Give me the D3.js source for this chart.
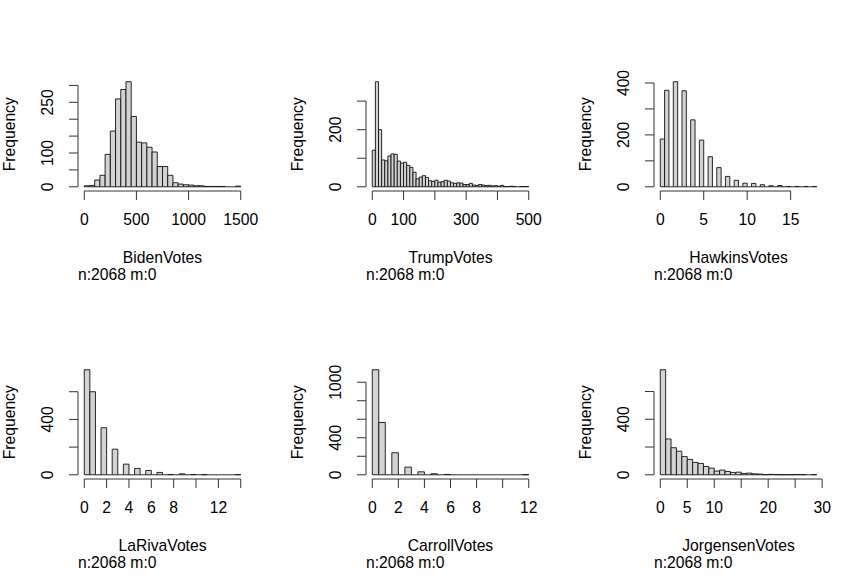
<!DOCTYPE html>
<html>
<head>
<meta charset="utf-8">
<script src="https://cdn.jsdelivr.net/npm/d3@7"></script>
<style>
  html, body { margin: 0; padding: 0; background: #fff; }
  svg text { font-family: "Liberation Sans", Arial, Helvetica, sans-serif; font-size: 15.7px; fill: #000; }
</style>
</head>
<body>
<svg id="chart" width="864" height="576"></svg>
<script>
// ---- Data ----
const variables = ["BidenVotes", "TrumpVotes", "HawkinsVotes", "LaRivaVotes", "CarrollVotes", "JorgensenVotes"];
const footnotes = ["n:2068 m:0", "n:2068 m:0", "n:2068 m:0", "n:2068 m:0", "n:2068 m:0", "n:2068 m:0"];

// bin start, bin width, counts per bin
const bidenBreaks = [0, 50];
const bidenCounts = [3, 4, 20, 34, 96, 165, 260, 288, 311, 208, 132, 130, 117, 103, 60, 60, 34, 12, 8, 6, 5, 3, 3, 1, 1, 1, 1, 0, 0, 2];

const trumpBreaks = [0, 10];
const trumpCounts = [128, 368, 200, 94, 91, 108, 115, 114, 90, 83, 86, 75, 68, 51, 28, 34, 39, 33, 21, 19,
                     23, 16, 18, 23, 20, 14, 12, 14, 13, 8, 8, 12, 6, 5, 8, 6, 4, 5, 3, 4,
                     2, 5, 1, 1, 2, 1, 0, 1, 1, 1];

const hawkinsBreaks = [0, 0.5];
const hawkinsCounts = [184, 372, 0, 405, 0, 370, 0, 258, 0, 180, 0, 116, 0, 74, 0, 40, 0, 25, 0, 14,
                       0, 13, 0, 8, 0, 4, 0, 5, 0, 1, 0, 1, 0, 1, 0, 1];

const larivaBreaks = [0, 0.5];
const larivaCounts = [759, 600, 0, 340, 0, 185, 0, 77, 0, 46, 0, 31, 0, 17, 0, 2, 0, 7, 0, 2, 0, 1, 0, 0, 0, 0, 0, 1];

const carrollBreaks = [0, 0.5];
const carrollCounts = [1135, 565, 0, 238, 0, 83, 0, 32, 0, 11, 0, 3, 0, 0, 0, 0, 0, 0, 0, 0, 0, 0, 0, 1];

const jorgensenBreaks = [0, 1];
const jorgensenCounts = [757, 258, 195, 170, 131, 111, 89, 82, 60, 48, 27, 34, 24, 17, 19, 10, 12, 7, 5,
                         2, 3, 2, 1, 1, 1, 2, 1, 0, 1];

// axis ticks and the tick labels that are shown
const bidenXTicks = [0, 500, 1000, 1500];           const bidenXLabels = [0, 500, 1000, 1500];
const bidenYTicks = [0, 50, 100, 150, 200, 250, 300]; const bidenYLabels = [0, 100, 250];
const trumpXTicks = [0, 100, 200, 300, 400, 500];    const trumpXLabels = [0, 100, 300, 500];
const trumpYTicks = [0, 100, 200, 300];              const trumpYLabels = [0, 200];
const hawkinsXTicks = [0, 5, 10, 15];                const hawkinsXLabels = [0, 5, 10, 15];
const hawkinsYTicks = [0, 100, 200, 300, 400];       const hawkinsYLabels = [0, 200, 400];
const larivaXTicks = [0, 2, 4, 6, 8, 10, 12, 14];    const larivaXLabels = [0, 2, 4, 6, 8, 12];
const larivaYTicks = [0, 200, 400, 600];             const larivaYLabels = [0, 400];
const carrollXTicks = [0, 2, 4, 6, 8, 10, 12];       const carrollXLabels = [0, 2, 4, 6, 8, 12];
const carrollYTicks = [0, 200, 400, 600, 800, 1000]; const carrollYLabels = [0, 400, 1000];
const jorgensenXTicks = [0, 5, 10, 15, 20, 25, 30];  const jorgensenXLabels = [0, 5, 10, 20, 30];
const jorgensenYTicks = [0, 200, 400, 600];          const jorgensenYLabels = [0, 400];

const panels = [
  { name: variables[0], note: footnotes[0], breaks: bidenBreaks, counts: bidenCounts, xt: bidenXTicks, xl: bidenXLabels, yt: bidenYTicks, yl: bidenYLabels },
  { name: variables[1], note: footnotes[1], breaks: trumpBreaks, counts: trumpCounts, xt: trumpXTicks, xl: trumpXLabels, yt: trumpYTicks, yl: trumpYLabels },
  { name: variables[2], note: footnotes[2], breaks: hawkinsBreaks, counts: hawkinsCounts, xt: hawkinsXTicks, xl: hawkinsXLabels, yt: hawkinsYTicks, yl: hawkinsYLabels },
  { name: variables[3], note: footnotes[3], breaks: larivaBreaks, counts: larivaCounts, xt: larivaXTicks, xl: larivaXLabels, yt: larivaYTicks, yl: larivaYLabels },
  { name: variables[4], note: footnotes[4], breaks: carrollBreaks, counts: carrollCounts, xt: carrollXTicks, xl: carrollXLabels, yt: carrollYTicks, yl: carrollYLabels },
  { name: variables[5], note: footnotes[5], breaks: jorgensenBreaks, counts: jorgensenCounts, xt: jorgensenXTicks, xl: jorgensenXLabels, yt: jorgensenYTicks, yl: jorgensenYLabels }
];

// ---- Layout ----
const svg = d3.select("#chart");
const cellW = 288, cellH = 288;
const L = 78, R = 247, T = 77.5, B = 191;
const tickLen = 9;
const axisColor = "#333";

panels.forEach((p, i) => {
  const col = i % 3, row = Math.floor(i / 3);
  const g = svg.append("g").attr("transform", `translate(${col * cellW},${row * cellH})`);

  const x0 = p.breaks[0], w = p.breaks[1];
  const bins = p.counts.map((c, k) => ({ x0: x0 + k * w, x1: x0 + (k + 1) * w, c }));
  const xmin = x0, xmax = x0 + p.counts.length * w;
  const dx = xmax - xmin;
  const ymax = d3.max(p.counts);

  const x = d3.scaleLinear().domain([xmin - 0.04 * dx, xmax + 0.04 * dx]).range([L, R]);
  const y = d3.scaleLinear().domain([-0.04 * ymax, ymax * 1.04]).range([B, T]);

  // bars (zero-count bins drawn as flat outlines, like R)
  g.append("g").selectAll("path").data(bins).join("path")
    .attr("d", d => {
      const a = x(d.x0), b = x(d.x1), y0 = y(0), y1 = y(d.c);
      return d.c > 0
        ? `M${a},${y0}V${y1}H${b}V${y0}Z`
        : `M${a},${y0}H${b}`;
    })
    .attr("fill", "#d3d3d3")
    .attr("stroke", "#111")
    .attr("stroke-width", 0.9);

  // x axis (R style: line from first to last tick)
  const xa = g.append("g");
  xa.append("line")
    .attr("x1", x(p.xt[0])).attr("x2", x(p.xt[p.xt.length - 1]))
    .attr("y1", B).attr("y2", B)
    .attr("stroke", axisColor);
  xa.selectAll("line.tick").data(p.xt).join("line").attr("class", "tick")
    .attr("x1", d => x(d)).attr("x2", d => x(d))
    .attr("y1", B).attr("y2", B + tickLen)
    .attr("stroke", axisColor);
  xa.selectAll("text").data(p.xl).join("text")
    .attr("x", d => x(d)).attr("y", B + 34)
    .attr("text-anchor", "middle")
    .text(d => d);

  // y axis
  const ya = g.append("g");
  ya.append("line")
    .attr("x1", L).attr("x2", L)
    .attr("y1", y(p.yt[0])).attr("y2", y(p.yt[p.yt.length - 1]))
    .attr("stroke", axisColor);
  ya.selectAll("line.tick").data(p.yt).join("line").attr("class", "tick")
    .attr("x1", L - tickLen).attr("x2", L)
    .attr("y1", d => y(d)).attr("y2", d => y(d))
    .attr("stroke", axisColor);
  ya.selectAll("text").data(p.yl).join("text")
    .attr("transform", d => `translate(${L - 25.5},${y(d)}) rotate(-90)`)
    .attr("text-anchor", "middle")
    .text(d => d);

  // titles
  g.append("text")
    .attr("transform", `translate(15,${(T + B) / 2}) rotate(-90)`)
    .attr("text-anchor", "middle")
    .text("Frequency");
  g.append("text")
    .attr("x", (L + R) / 2).attr("y", B + 72)
    .attr("text-anchor", "middle")
    .text(p.name);
  g.append("text")
    .attr("x", L).attr("y", B + 89)
    .attr("text-anchor", "start")
    .text(p.note);
});
</script>
</body>
</html>
